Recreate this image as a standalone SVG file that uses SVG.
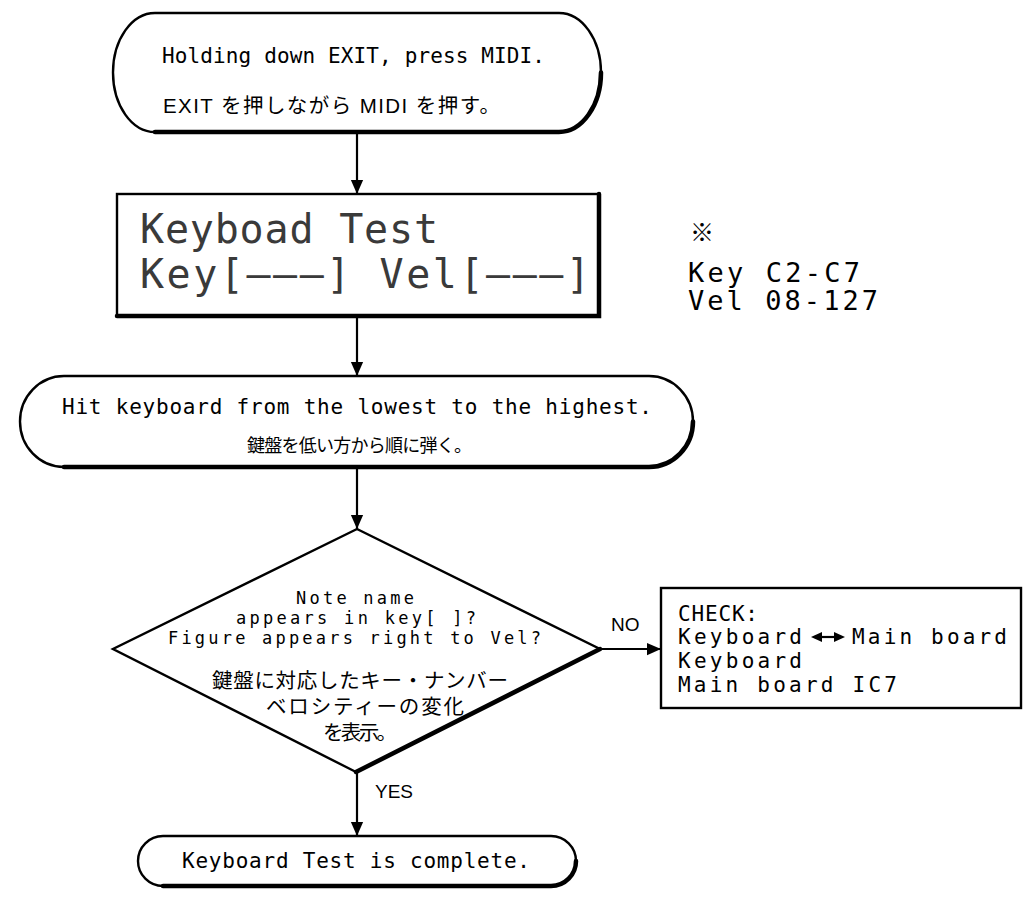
<svg xmlns="http://www.w3.org/2000/svg" width="1025" height="899" viewBox="0 0 1025 899">
<style>
.shape{fill:#fff;stroke:#000;stroke-width:2.4}
.heavy{fill:none;stroke:#000;stroke-width:4.5;stroke-linecap:round}
.conn{fill:none;stroke:#000;stroke-width:2.2}
.mono{font-family:"DejaVu Sans Mono","Liberation Mono",monospace;fill:#000}
.jp{font-family:"Liberation Sans","Noto Sans CJK JP",sans-serif;fill:#000}
.lcd{font-family:"DejaVu Sans Mono","Liberation Mono",monospace;fill:#3a3a3a;font-size:40px}
.lbl{font-family:"Liberation Sans","Noto Sans",sans-serif;fill:#000;font-size:19px}
</style>
<defs>
<marker id="arr" markerUnits="userSpaceOnUse" markerWidth="14" markerHeight="18" refX="16" refY="7" viewBox="0 0 16 14" orient="auto">
<path d="M0,0 L16,7 L0,14 Z" fill="#000"/>
</marker>
</defs>
<rect width="1025" height="899" fill="#fff"/>

<g id="connectors">
<line class="conn" x1="357" y1="133" x2="357" y2="194" marker-end="url(#arr)"/>
<line class="conn" x1="357" y1="316" x2="357" y2="376" marker-end="url(#arr)"/>
<line class="conn" x1="357" y1="467" x2="357" y2="529" marker-end="url(#arr)"/>
<line class="conn" x1="600" y1="649" x2="661" y2="649" marker-end="url(#arr)"/>
<line class="conn" x1="357" y1="772" x2="357" y2="836" marker-end="url(#arr)"/>
<text class="lbl" x="611" y="631">NO</text>
<text class="lbl" x="375" y="798">YES</text>
</g>

<g id="start">
<rect class="shape" x="113" y="13" width="488" height="119" rx="42" ry="59.5"/>
<path class="heavy" d="M155,132 L559,132 A42,59.5 0 0 0 601,72.5" stroke-width="3.6"/>
<text class="mono" x="162" y="63" font-size="21" textLength="383" lengthAdjust="spacing">Holding down EXIT, press MIDI.</text>
<text class="jp" x="163" y="113" font-size="20.5" textLength="337" lengthAdjust="spacing">EXIT を押しながら MIDI を押す。</text>
</g>

<g id="lcd">
<rect class="shape" x="117" y="194" width="482" height="122" stroke-width="3"/>
<path class="heavy" d="M117,316 L599,316 L599,194"/>
<text class="lcd" x="140" y="243" textLength="298" lengthAdjust="spacing">Keyboad Test</text>
<text class="lcd" x="140" y="288" textLength="450" lengthAdjust="spacing">Key[———]  Vel[———]</text>
</g>

<g id="note">
<text class="jp" x="690" y="241" font-size="24">※</text>
<text class="mono" x="688" y="282" font-size="27" textLength="172" lengthAdjust="spacing">Key C2-C7</text>
<text class="mono" x="688" y="310" font-size="27" textLength="190" lengthAdjust="spacing">Vel 08-127</text>
</g>

<g id="hit">
<rect class="shape" x="20" y="376" width="673" height="91" rx="44" ry="45.5"/>
<path class="heavy" d="M64,467 L649,467 A44,45.5 0 0 0 693,421.5" stroke-width="3.6"/>
<text class="mono" x="62" y="414" font-size="21" textLength="590" lengthAdjust="spacing">Hit keyboard from the lowest to the highest.</text>
<text class="jp" x="247" y="452" font-size="18" textLength="225" lengthAdjust="spacing">鍵盤を低い方から順に弾く。</text>
</g>

<g id="decision">
<polygon class="shape" points="357,529 600,649 356,772 113,649"/>
<path class="heavy" d="M600,649 L356,772"/>
<text class="mono" x="296" y="604" font-size="17" textLength="118" lengthAdjust="spacing">Note name</text>
<text class="mono" x="236" y="624" font-size="17" textLength="240" lengthAdjust="spacing">appears in key[ ]?</text>
<text class="mono" x="168" y="644" font-size="17" textLength="373" lengthAdjust="spacing">Figure appears right to Vel?</text>
<text class="jp" x="212" y="688" font-size="20.5" textLength="296" lengthAdjust="spacing">鍵盤に対応したキー・ナンバー</text>
<text class="jp" x="266" y="714" font-size="20.5" textLength="198" lengthAdjust="spacing">ベロシティーの変化</text>
<text class="jp" x="323" y="740" font-size="20.5" textLength="74" lengthAdjust="spacing">を表示。</text>
</g>

<g id="check">
<rect class="shape" x="661" y="588" width="360" height="120" stroke-width="2.2"/>
<text class="mono" x="678" y="621" font-size="21" textLength="80" lengthAdjust="spacing">CHECK:</text>
<text class="mono" x="678" y="644" font-size="21" textLength="124" lengthAdjust="spacing">Keyboard</text>
<g id="dbl-arrow">
<line x1="818" y1="637" x2="838" y2="637" stroke="#000" stroke-width="2.2"/>
<path d="M811,637 L822,632 L822,642 Z" fill="#000"/>
<path d="M845,637 L834,632 L834,642 Z" fill="#000"/>
</g>
<text class="mono" x="852" y="644" font-size="21" textLength="155" lengthAdjust="spacing">Main board</text>
<text class="mono" x="678" y="668" font-size="21" textLength="124" lengthAdjust="spacing">Keyboard</text>
<text class="mono" x="678" y="692" font-size="21" textLength="219" lengthAdjust="spacing">Main board IC7</text>
</g>

<g id="end">
<rect class="shape" x="138" y="836" width="438" height="50" rx="25" ry="25"/>
<path class="heavy" d="M163,886 L551,886 A25,25 0 0 0 576,861" stroke-width="3.6"/>
<text class="mono" x="182" y="868" font-size="21" textLength="348" lengthAdjust="spacing">Keyboard Test is complete.</text>
</g>
</svg>
